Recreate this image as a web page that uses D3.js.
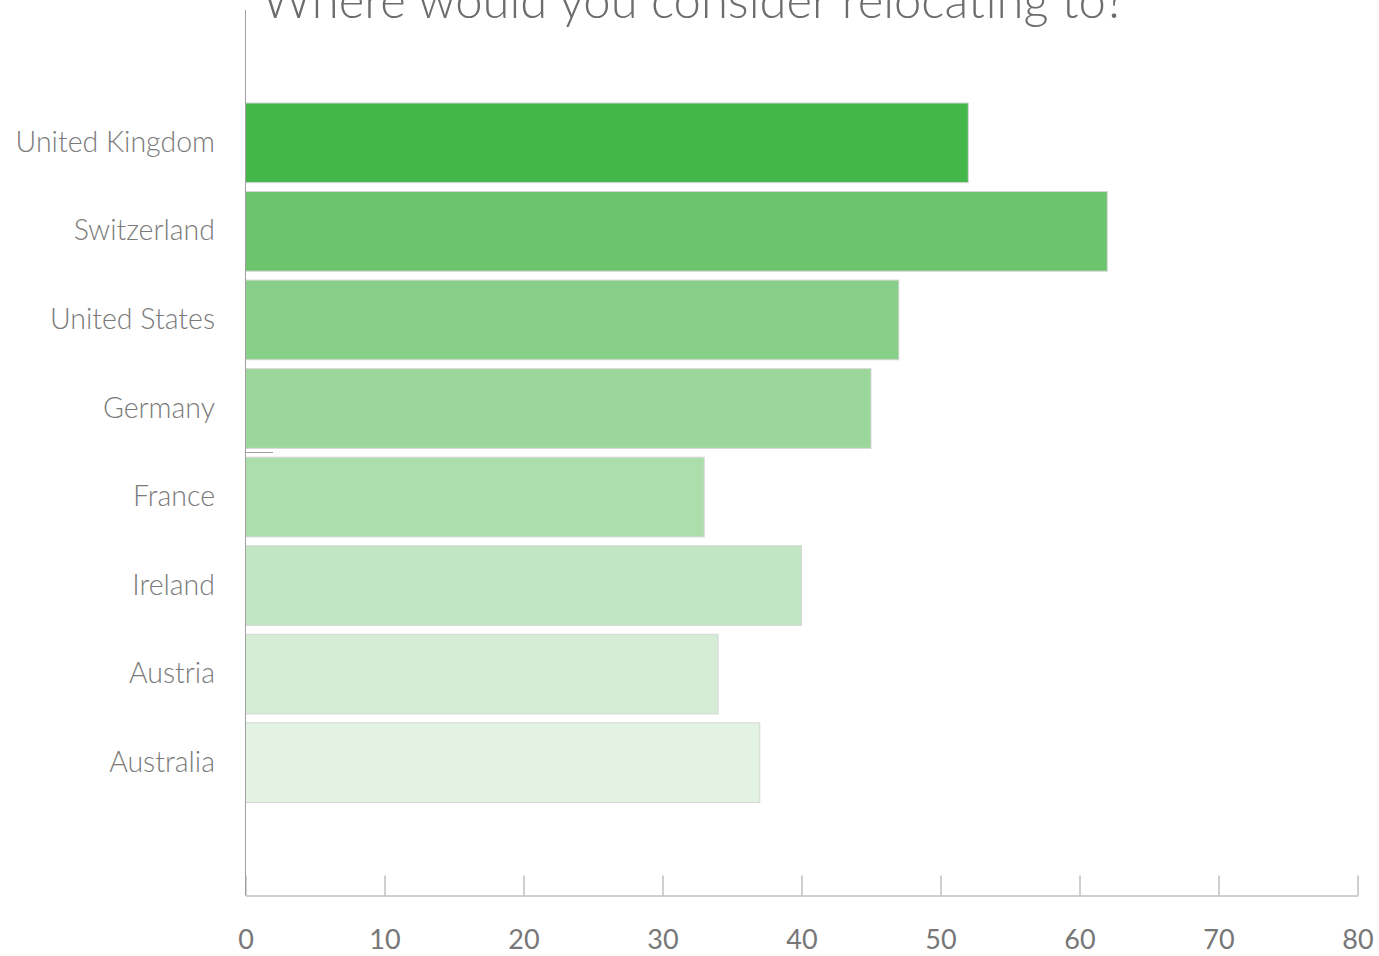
<!DOCTYPE html>
<html>
<head>
<meta charset="utf-8">
<script src="https://cdn.jsdelivr.net/npm/d3@7"></script>
<style>
  body { margin: 0; background: #fff; }
  text { font-family: "Source Sans Pro", Lato, "Noto Sans", sans-serif; }
</style>
</head>
<body>
<script>
// survey answers, percent
var countries = ['United Kingdom', 'Switzerland', 'United States', 'Germany', 'France', 'Ireland', 'Austria', 'Australia'];
var values = [52, 62, 47, 45, 33, 40, 34, 37];
var colors = ['#45b649', '#6cc46f', '#88cf8a', '#9bd79b', '#acdeac', '#c1e6c2', '#d4edd4', '#e2f2e3'];
var ticks = [0, 10, 20, 30, 40, 50, 60, 70, 80];
var title = 'Where would you consider relocating to?';

var data = countries.map(function (c, i) { return {name: c, value: values[i], color: colors[i]}; });

var svg = d3.select('body').append('svg')
  .attr('width', 1379)
  .attr('height', 956);

var x = d3.scaleLinear().domain([0, 80]).range([245.5, 1357.5]);
var y = d3.scaleBand().domain(countries).range([10, 895.5])
  .paddingInner(0.1).paddingOuter(1.05);

// title, cut at the top like the original
svg.append('text')
  .attr('x', 262)
  .attr('y', 18)
  .attr('font-size', 49)
  .attr('font-weight', 300)
  .attr('fill', '#6d6d6d')
  .text(title);

// bars
svg.selectAll('rect.bar')
  .data(data)
  .enter().append('rect')
  .attr('class', 'bar')
  .attr('x', x(0))
  .attr('y', function (d) { return y(d.name); })
  .attr('width', function (d) { return x(d.value) - x(0); })
  .attr('height', y.bandwidth())
  .attr('fill', function (d) { return d.color; })
  .attr('stroke', '#d6d6d6')
  .attr('stroke-width', 1);

// category labels
svg.selectAll('text.cat')
  .data(data)
  .enter().append('text')
  .attr('class', 'cat')
  .attr('x', 215)
  .attr('y', function (d) { return y(d.name) + y.bandwidth() / 2; })
  .attr('dy', '0.32em')
  .attr('text-anchor', 'end')
  .attr('font-size', 28.5)
  .attr('font-weight', 300)
  .attr('fill', '#7a7a7a')
  .text(function (d) { return d.name; });

// y axis line and its stray mid tick
svg.append('line')
  .attr('x1', 245.5).attr('x2', 245.5)
  .attr('y1', 10).attr('y2', 895.5)
  .attr('stroke', '#a0a0a0');
svg.append('line')
  .attr('x1', 245.5).attr('x2', 273)
  .attr('y1', 452.5).attr('y2', 452.5)
  .attr('stroke', '#a0a0a0');

// x axis, ticks pointing up
var xAxis = svg.append('g')
  .attr('transform', 'translate(0,895.5)')
  .call(d3.axisBottom(x).tickValues(ticks).tickSizeInner(-20).tickSizeOuter(0).tickPadding(34));
xAxis.select('.domain').attr('stroke', '#a0a0a0');
xAxis.selectAll('.tick line').attr('stroke', '#a0a0a0');
xAxis.selectAll('.tick text')
  .attr('font-size', 27)
  .attr('font-family', '"Source Sans Pro", Lato, "Noto Sans", sans-serif')
  .attr('fill', '#777');
</script>
</body>
</html>
